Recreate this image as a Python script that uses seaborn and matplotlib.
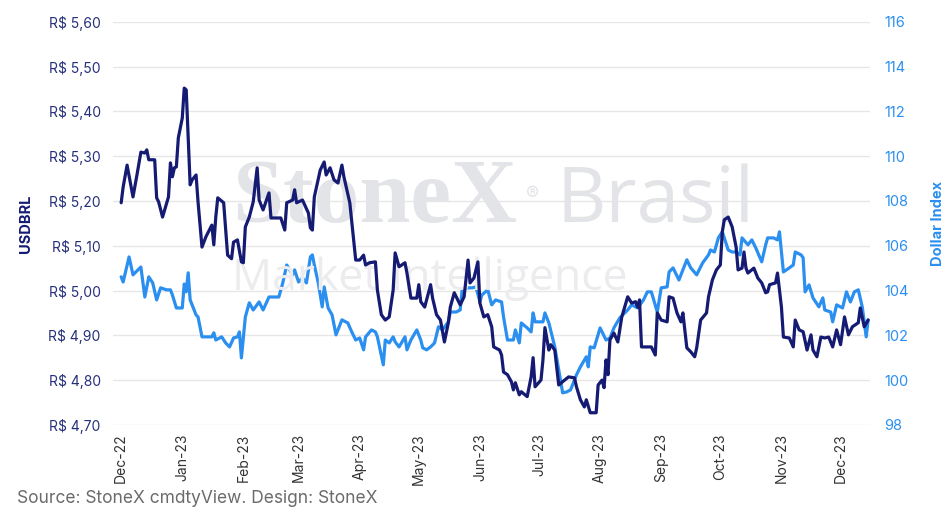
import pandas as pd
import matplotlib
matplotlib.use("Agg")
import matplotlib.pyplot as plt
import matplotlib.dates as mdates
from matplotlib.ticker import MultipleLocator, FuncFormatter
import seaborn as sns

# USDBRL (left axis)
brl_dates = [
    "2022-12-01", "2022-12-02", "2022-12-04", "2022-12-07", "2022-12-09", "2022-12-11", "2022-12-13",
    "2022-12-14", "2022-12-15", "2022-12-18", "2022-12-19", "2022-12-20", "2022-12-22", "2022-12-25",
    "2022-12-26", "2022-12-27", "2022-12-28", "2022-12-29", "2022-12-30", "2023-01-01", "2023-01-02",
    "2023-01-03", "2023-01-05", "2023-01-06", "2023-01-08", "2023-01-09", "2023-01-11", "2023-01-13",
    "2023-01-16", "2023-01-17", "2023-01-18", "2023-01-19", "2023-01-22", "2023-01-24", "2023-01-26",
    "2023-01-27", "2023-01-29", "2023-01-31", "2023-02-01", "2023-02-02", "2023-02-04", "2023-02-06",
    "2023-02-08", "2023-02-09", "2023-02-11", "2023-02-14", "2023-02-15", "2023-02-20", "2023-02-22",
    "2023-02-23", "2023-02-26", "2023-02-27", "2023-02-28", "2023-03-03", "2023-03-06", "2023-03-07",
    "2023-03-08", "2023-03-09", "2023-03-12", "2023-03-14", "2023-03-15", "2023-03-17", "2023-03-19",
    "2023-03-21", "2023-03-23", "2023-03-24", "2023-03-27", "2023-03-30", "2023-04-01", "2023-04-03",
    "2023-04-04", "2023-04-06", "2023-04-09", "2023-04-10", "2023-04-12", "2023-04-14", "2023-04-16",
    "2023-04-18", "2023-04-19", "2023-04-21", "2023-04-24", "2023-04-25", "2023-04-27", "2023-04-30",
    "2023-05-01", "2023-05-02", "2023-05-04", "2023-05-07", "2023-05-08", "2023-05-10", "2023-05-12",
    "2023-05-14", "2023-05-16", "2023-05-17", "2023-05-19", "2023-05-22", "2023-05-24", "2023-05-26",
    "2023-05-27", "2023-05-29", "2023-05-31", "2023-06-01", "2023-06-03", "2023-06-05", "2023-06-07",
    "2023-06-08", "2023-06-11", "2023-06-12", "2023-06-13", "2023-06-15", "2023-06-17", "2023-06-18",
    "2023-06-19", "2023-06-21", "2023-06-22", "2023-06-25", "2023-06-27", "2023-06-28", "2023-06-29",
    "2023-07-02", "2023-07-03", "2023-07-04", "2023-07-06", "2023-07-07", "2023-07-09", "2023-07-11",
    "2023-07-14", "2023-07-16", "2023-07-19", "2023-07-20", "2023-07-22", "2023-07-24", "2023-07-25",
    "2023-07-27", "2023-07-30", "2023-07-31", "2023-08-02", "2023-08-03", "2023-08-04", "2023-08-05",
    "2023-08-06", "2023-08-08", "2023-08-10", "2023-08-12", "2023-08-15", "2023-08-17", "2023-08-19",
    "2023-08-20", "2023-08-21", "2023-08-22", "2023-08-24", "2023-08-27", "2023-08-29", "2023-08-30",
    "2023-09-01", "2023-09-04", "2023-09-05", "2023-09-07", "2023-09-09", "2023-09-11", "2023-09-12",
    "2023-09-14", "2023-09-16", "2023-09-18", "2023-09-19", "2023-09-21", "2023-09-24", "2023-09-25",
    "2023-09-27", "2023-09-29", "2023-10-01", "2023-10-02", "2023-10-03", "2023-10-05", "2023-10-07",
    "2023-10-09", "2023-10-10", "2023-10-12", "2023-10-13", "2023-10-14", "2023-10-15", "2023-10-18",
    "2023-10-20", "2023-10-22", "2023-10-24", "2023-10-25", "2023-10-26", "2023-10-29", "2023-10-30",
    "2023-11-01", "2023-11-02", "2023-11-05", "2023-11-07", "2023-11-08", "2023-11-10", "2023-11-12",
    "2023-11-14", "2023-11-16", "2023-11-17", "2023-11-19", "2023-11-21", "2023-11-23", "2023-11-25",
    "2023-11-27", "2023-11-29", "2023-12-01", "2023-12-03", "2023-12-05", "2023-12-07", "2023-12-10",
    "2023-12-11", "2023-12-13", "2023-12-15",
]
brl_values = [
    5.196, 5.231, 5.280, 5.209, 5.258, 5.309, 5.307,
    5.314, 5.292, 5.292, 5.207, 5.198, 5.164, 5.209,
    5.285, 5.254, 5.274, 5.276, 5.341, 5.385, 5.452,
    5.448, 5.236, 5.247, 5.258, 5.198, 5.097, 5.120,
    5.146, 5.102, 5.164, 5.207, 5.196, 5.079, 5.071,
    5.108, 5.113, 5.064, 5.062, 5.142, 5.164, 5.198,
    5.274, 5.202, 5.180, 5.218, 5.162, 5.162, 5.135,
    5.196, 5.202, 5.225, 5.196, 5.202, 5.173, 5.140,
    5.135, 5.209, 5.269, 5.287, 5.258, 5.274, 5.247,
    5.240, 5.280, 5.254, 5.196, 5.068, 5.068, 5.079,
    5.057, 5.062, 5.064, 5.001, 4.946, 4.934, 4.941,
    5.001, 5.084, 5.053, 5.062, 5.039, 4.983, 4.983,
    5.013, 4.975, 4.963, 5.013, 4.983, 4.946, 4.934,
    4.885, 4.928, 4.963, 4.995, 4.968, 4.986, 5.068,
    5.017, 5.028, 5.064, 4.972, 4.941, 4.946, 4.919,
    4.874, 4.867, 4.856, 4.818, 4.812, 4.796, 4.778,
    4.794, 4.767, 4.774, 4.763, 4.807, 4.850, 4.785,
    4.800, 4.845, 4.917, 4.867, 4.879, 4.867, 4.789,
    4.800, 4.807, 4.805, 4.785, 4.756, 4.740, 4.756,
    4.727, 4.727, 4.789, 4.800, 4.783, 4.845, 4.812,
    4.890, 4.905, 4.885, 4.941, 4.986, 4.972, 4.975,
    4.963, 4.979, 4.874, 4.874, 4.874, 4.856, 4.950,
    4.934, 4.930, 4.986, 4.983, 4.950, 4.930, 4.950,
    4.872, 4.863, 4.852, 4.872, 4.934, 4.950, 4.986,
    5.024, 5.046, 5.057, 5.131, 5.158, 5.164, 5.142,
    5.097, 5.046, 5.050, 5.086, 5.050, 5.039, 5.050,
    5.028, 5.017, 4.995, 4.997, 5.013, 5.017, 5.039,
    4.963, 4.896, 4.894, 4.874, 4.934, 4.912, 4.908,
    4.867, 4.901, 4.867, 4.852, 4.896, 4.894, 4.896,
    4.874, 4.912, 4.879, 4.941, 4.901, 4.919, 4.928,
    4.961, 4.919, 4.934,
]

# Dollar Index (right axis)
dxy_dates = [
    "2022-12-01", "2022-12-02", "2022-12-05", "2022-12-07", "2022-12-11", "2022-12-13", "2022-12-15",
    "2022-12-17", "2022-12-19", "2022-12-21", "2022-12-24", "2022-12-26", "2022-12-27", "2022-12-29",
    "2023-01-01", "2023-01-02", "2023-01-03", "2023-01-04", "2023-01-05", "2023-01-08", "2023-01-09",
    "2023-01-11", "2023-01-16", "2023-01-17", "2023-01-18", "2023-01-21", "2023-01-23", "2023-01-25",
    "2023-01-27", "2023-01-29", "2023-01-30", "2023-01-31", "2023-02-02", "2023-02-04", "2023-02-06",
    "2023-02-09", "2023-02-11", "2023-02-14", "2023-02-19", "2023-02-21", "2023-02-23", "2023-02-26",
    "2023-02-27", "2023-03-01", "2023-03-03", "2023-03-05", "2023-03-07", "2023-03-08", "2023-03-09",
    "2023-03-11", "2023-03-13", "2023-03-14", "2023-03-16", "2023-03-18", "2023-03-20", "2023-03-23",
    "2023-03-26", "2023-03-28", "2023-03-30", "2023-04-01", "2023-04-03", "2023-04-04", "2023-04-07",
    "2023-04-09", "2023-04-10", "2023-04-13", "2023-04-14", "2023-04-16", "2023-04-18", "2023-04-19",
    "2023-04-21", "2023-04-24", "2023-04-25", "2023-04-27", "2023-04-30", "2023-05-02", "2023-05-03",
    "2023-05-05", "2023-05-07", "2023-05-09", "2023-05-11", "2023-05-13", "2023-05-16", "2023-05-17",
    "2023-05-20", "2023-05-22", "2023-05-23", "2023-05-25", "2023-05-28", "2023-05-30", "2023-06-01",
    "2023-06-02", "2023-06-05", "2023-06-07", "2023-06-09", "2023-06-12", "2023-06-13", "2023-06-15",
    "2023-06-18", "2023-06-19", "2023-06-21", "2023-06-22", "2023-06-25", "2023-06-27", "2023-06-28",
    "2023-06-29", "2023-07-03", "2023-07-04", "2023-07-06", "2023-07-09", "2023-07-11", "2023-07-13",
    "2023-07-15", "2023-07-17", "2023-07-20", "2023-07-22", "2023-07-25", "2023-07-26", "2023-07-27",
    "2023-07-29", "2023-08-01", "2023-08-04", "2023-08-06", "2023-08-08", "2023-08-11", "2023-08-15",
    "2023-08-17", "2023-08-20", "2023-08-23", "2023-08-25", "2023-08-27", "2023-08-30", "2023-09-01",
    "2023-09-04", "2023-09-05", "2023-09-07", "2023-09-10", "2023-09-14", "2023-09-16", "2023-09-19",
    "2023-09-22", "2023-09-25", "2023-09-26", "2023-09-28", "2023-09-30", "2023-10-02", "2023-10-05",
    "2023-10-07", "2023-10-09", "2023-10-11", "2023-10-12", "2023-10-15", "2023-10-17", "2023-10-19",
    "2023-10-22", "2023-10-24", "2023-10-25", "2023-10-28", "2023-10-30", "2023-10-31", "2023-11-02",
    "2023-11-05", "2023-11-07", "2023-11-08", "2023-11-11", "2023-11-12", "2023-11-13", "2023-11-15",
    "2023-11-17", "2023-11-20", "2023-11-22", "2023-11-23", "2023-11-26", "2023-11-27", "2023-11-29",
    "2023-12-02", "2023-12-04", "2023-12-06", "2023-12-08", "2023-12-10", "2023-12-12", "2023-12-14",
    "2023-12-15",
]
dxy_values = [
    104.61, 104.38, 105.50, 104.70, 105.05, 103.71, 104.61,
    104.34, 103.58, 104.12, 104.03, 104.03, 103.80, 103.22,
    103.22, 104.29, 103.94, 104.79, 103.58, 102.91, 102.82,
    101.93, 101.93, 102.11, 101.79, 101.93, 101.66, 101.48,
    101.88, 101.93, 102.15, 100.99, 102.82, 103.45, 103.13,
    103.49, 103.13, 103.71, 103.71, 104.34, 105.14, 104.70,
    104.92, 104.38, 104.56, 104.34, 105.50, 105.59, 105.14,
    104.34, 103.27, 104.16, 103.22, 102.91, 102.02, 102.69,
    102.55, 102.15, 101.79, 101.88, 101.35, 101.93, 102.24,
    102.15, 101.93, 100.68, 101.79, 101.66, 101.93, 101.71,
    101.48, 101.93, 101.35, 101.79, 102.24, 101.79, 101.44,
    101.35, 101.48, 101.66, 102.38, 102.24, 102.60, 103.04,
    103.04, 103.13, 104.03, 104.12, 104.12, 104.16, 103.49,
    103.80, 104.03, 103.36, 103.58, 103.49, 102.82, 101.79,
    101.79, 102.24, 101.66, 102.55, 102.33, 102.15, 103.00,
    102.60, 102.60, 103.00, 102.55, 101.48, 100.46, 99.43,
    99.47, 99.56, 100.23, 100.59, 101.04, 100.59, 101.48,
    101.44, 102.33, 101.79, 101.88, 102.33, 102.78, 103.13,
    103.36, 103.22, 103.58, 103.94, 103.94, 103.04, 104.12,
    104.16, 104.83, 105.01, 104.47, 105.37, 105.01, 104.70,
    105.23, 105.59, 105.81, 105.72, 106.35, 106.62, 105.81,
    105.72, 105.72, 105.59, 106.35, 106.04, 106.26, 105.90,
    105.28, 106.04, 106.35, 106.35, 106.26, 106.62, 104.83,
    105.01, 105.14, 105.72, 105.59, 105.46, 103.94, 104.25,
    103.67, 103.27, 103.67, 103.13, 103.04, 102.60, 103.36,
    103.22, 103.94, 103.49, 103.94, 104.03, 103.27, 101.93,
    102.69,
]

NAVY = "#151a73"
BLUE = "#2b8ff0"
NAVY_TXT = "#26307a"

sns.set_theme(style="white")
plt.rcParams["font.family"] = ["Inter", "DejaVu Sans"]

brl = pd.DataFrame({"date": pd.to_datetime(brl_dates), "USDBRL": brl_values})
dxy = pd.DataFrame({"date": pd.to_datetime(dxy_dates), "DXY": dxy_values})

fig = plt.figure(figsize=(9.52, 5.2), dpi=100)
ax = fig.add_axes([0.119, 0.183, 0.795, 0.775])
ax2 = ax.twinx()

# navy line sits on top, grid lives on the back axis
ax.set_zorder(ax2.get_zorder() + 1)
ax.patch.set_visible(False)

# watermark
fig.text(0.244, 0.573, "StoneX", family="Liberation Serif", fontweight="bold",
         fontsize=66, color="#e3e4e7", va="baseline", zorder=0)
fig.text(0.553, 0.615, "®", fontsize=14, color="#e3e4e7", zorder=0)
fig.text(0.585, 0.573, "Brasil", family="Open Sans", fontsize=55,
         color="#e3e4e7", va="baseline", zorder=0)
fig.text(0.244, 0.443, "Market Intelligence", family="Open Sans", fontsize=32,
         color="#ececee", va="baseline", zorder=0)

sns.lineplot(data=dxy, x="date", y="DXY", ax=ax2, color=BLUE, lw=2.3)
sns.lineplot(data=brl, x="date", y="USDBRL", ax=ax, color=NAVY, lw=2.3)

ax.set_xlim(pd.Timestamp("2022-11-27"), pd.Timestamp("2023-12-16"))
ax.set_ylim(4.70, 5.60)
ax2.set_ylim(98, 116)
ax.yaxis.set_major_locator(MultipleLocator(0.1))
ax2.yaxis.set_major_locator(MultipleLocator(2))
ax.yaxis.set_major_formatter(FuncFormatter(lambda v, p: f"R$ {v:.2f}".replace(".", ",")))
ax2.yaxis.set_major_formatter(FuncFormatter(lambda v, p: f"{v:.0f}"))

ax.xaxis.set_major_locator(mdates.MonthLocator())
ax.xaxis.set_major_formatter(mdates.DateFormatter("%b-%y"))

ax2.grid(axis="y", color="#e6e6e6", lw=1)
ax.grid(False)
for a in (ax, ax2):
    for s in a.spines.values():
        s.set_visible(False)

ax.tick_params(axis="x", length=0, pad=6, labelsize=10, labelcolor="#333333", labelrotation=90)
ax.tick_params(axis="y", length=0, pad=9, labelsize=10, labelcolor=NAVY_TXT)
ax2.tick_params(axis="y", length=0, pad=10, labelsize=10.5, labelcolor=BLUE)

ax.set_xlabel("")
ax.set_ylabel("USDBRL", color=NAVY, fontweight="bold", fontsize=10.5, labelpad=11)
ax2.set_ylabel("Dollar Index", color=BLUE, fontweight="bold", fontsize=10.5, labelpad=16)

fig.text(0.018, 0.042, "Source: StoneX cmdtyView. Design: StoneX", fontsize=12.5,
         color="#6b6b6b", va="center")

fig.savefig("out.png", dpi=100)
